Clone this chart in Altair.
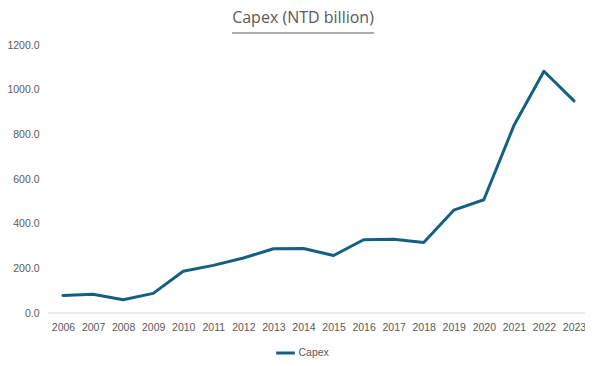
import altair as alt
import pandas as pd

years = [str(y) for y in range(2006, 2024)]
capex = [78.7, 84.0, 59.2, 87.8, 186.9, 213.2, 246.1, 287.6, 288.5, 257.5,
         328.0, 330.6, 315.6, 460.4, 507.2, 839.2, 1082.7, 949.8]
series_name = "Capex"
title_text = "Capex (NTD billion)"
y_ticks = [0, 200, 400, 600, 800, 1000, 1200]

df = pd.DataFrame({"year": years, "capex": capex, "series": series_name})

W, H = 537, 268
GREY = "#595959"
LINE = "#156082"
FONT = "Open Sans"
AXFONT = "Liberation Sans"

line = alt.Chart(df).mark_line(strokeWidth=3, strokeJoin="round", strokeCap="round").encode(
    x=alt.X("year:O", sort=years, title=None,
            scale=alt.Scale(type="point", range=[15, 526], padding=0),
            axis=alt.Axis(labelAngle=0, ticks=False, domain=False,
                          labelColor=GREY, labelFontSize=10.5, labelFont=AXFONT,
                          labelPadding=9, grid=False)),
    y=alt.Y("capex:Q", title=None,
            scale=alt.Scale(domain=[0, 1200], nice=False),
            axis=alt.Axis(values=y_ticks, format=".1f", ticks=False, domain=False, grid=False,
                          labelColor=GREY, labelFontSize=10.5, labelFont=AXFONT, labelPadding=9)),
    color=alt.Color("series:N", scale=alt.Scale(range=[LINE]), title=None,
                    legend=alt.Legend(orient="none", legendX=W / 2 - 42, legendY=H + 29,
                                      symbolType="stroke", symbolStrokeWidth=3, symbolSize=350,
                                      labelColor=GREY, labelFontSize=10.5, labelFont=AXFONT,
                                      labelOffset=2)),
)

baseline = alt.Chart(pd.DataFrame({"v": [0]})).mark_rule(color="#d9d9d9", strokeWidth=1).encode(
    x=alt.value(0), x2=alt.value(W), y=alt.value(H))

tdf = pd.DataFrame({"t": [title_text]})
title = alt.Chart(tdf).mark_text(fontSize=16, color=GREY, font=FONT, align="center",
                                 baseline="middle").encode(
    text="t:N", x=alt.value(255), y=alt.value(-27))
underline = alt.Chart(tdf).mark_rule(color=GREY, strokeWidth=1).encode(
    x=alt.value(184), x2=alt.value(326), y=alt.value(-12))

chart = alt.layer(baseline, line, title, underline).properties(
    width=W, height=H,
    autosize=alt.AutoSizeParams(type="none"),
    padding={"left": 40, "top": 37, "right": 0, "bottom": 45},
).configure(background="white").configure_view(strokeWidth=0, stroke=None)

chart.save("out.html", embed_options={"renderer": "svg", "actions": False})
